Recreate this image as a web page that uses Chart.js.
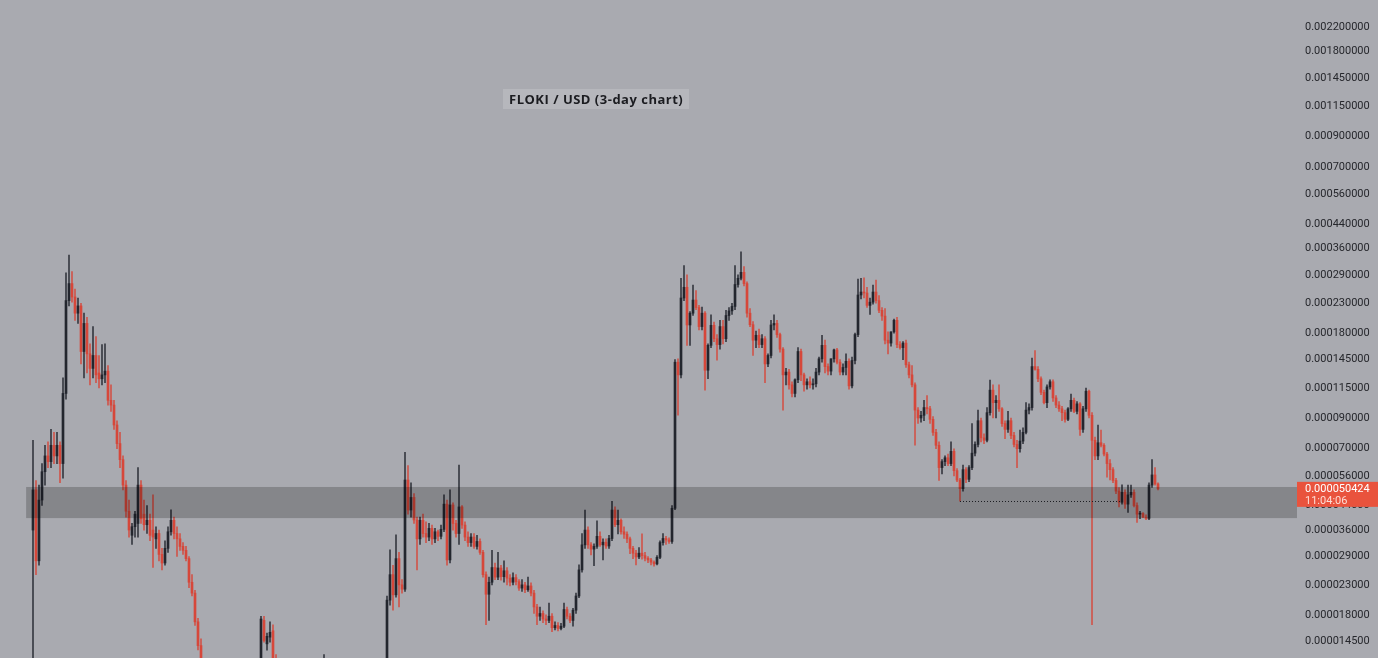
<!DOCTYPE html>
<html><head><meta charset="utf-8">
<script src="https://cdn.jsdelivr.net/npm/chart.js@4.4.1/dist/chart.umd.min.js"></script>
<style>
html,body{margin:0;padding:0;background:#a9aab0;overflow:hidden;}
#wrap{position:relative;width:1378px;height:658px;background:#a9aab0;}
#title{position:absolute;left:503px;top:89px;padding:2px 6px;line-height:16px;background:rgba(255,255,255,0.16);font-family:"Open Sans",Arial,sans-serif;font-weight:700;font-size:13px;letter-spacing:0.5px;color:#1b1c20;white-space:nowrap;}
</style></head>
<body><div id="wrap"><canvas id="c" width="1378" height="658"></canvas><div id="title">FLOKI / USD (3-day chart)</div></div>
<script>
// Prices in millionths of a USD (1 = 0.000001 USD), one 3-day candle per entry
const UNIT = 1e-6;
const opens = [
36,50,28,46,58,66,63,72,66,72,
62,110,235,270,242,212,225,155,195,152,
135,150,130,124,128,132,104,100,85,73,
64,52,42,34.5,37,38,52,41,37.6,39,
36,33.5,35,29.5,27.5,31,35.5,39,35,33.5,
31.5,30.5,28.5,23.5,21.5,17,14,12.2,10,9,
8.2,7,6.2,7.1,7.8,7.5,8.1,9.2,8.7,9.0,
9.8,9.5,9.9,10.8,11.0,11.4,11.9,17.2,14.2,15,
15.8,12.5,11.2,10.5,9.9,10.1,9.8,9.3,9.6,10.0,
9.7,9.4,9.8,10.3,10.6,10.9,11.3,11.6,12.0,11.3,
10.9,10.2,9.3,8.6,7.8,8.0,7.8,7.3,7.6,8.1,
7.9,8.2,8.8,9.2,9.7,10.2,10.9,11.6,12.1,20.3,
25,21.2,28.5,23,22.2,54.2,42.4,47,39.1,33.5,
39,35,34,36.5,33.5,35.5,34.2,36.2,44.5,28.2,
44.2,38,35,43.5,37.5,34,32.5,34,31.5,32.8,
30,25,21.3,23.5,26.5,24.5,26.4,24.6,25.8,24.3,
23.5,24.4,23.6,22.4,23,22.1,22.8,21.5,19.2,17.8,
18.2,17.4,17.2,17.8,16.2,16.5,16.1,16.4,18.8,17.8,
17.2,18.7,21,26,31.9,36,31.9,30.8,31.5,34.2,
31.9,32.6,31.6,33.6,42.4,37.6,39,35.5,34.8,33.5,
31,29.8,28.9,29.8,29.2,28.6,28.2,27.7,27.3,28.8,
32.5,33.6,33.2,32.8,43,142,128,240,262,192.5,
212,236,222,190,212,133,163,192,172,164,
190,172,208,216,224,268,282,296,270,212,
193,170,177,164,172,140,150,192.5,195,178,
158,128,131,118,110,123,155,128,118,121,
118,119,131,146,163,137,132,146,157,142,
131,136,143,117,144,178,246,252,250,226,
232,252,235,217,207,170,166,182,200,164,
160,166,139,128,118,96,90,92,98,97,
89,80,72,60,63,65,62,68.5,58.5,54.2,
50.5,59,54.5,60,67.5,72.5,88,76.5,75,94,
113,102,104,97,86,82,88,78,72.5,70,
74.5,80,96,98,137,134,124,111,102,116,
121,106,100,97,94,89,97,104,95,101,
82,97,112,92,75,66,73.5,72,67,62,
59,54,49.5,45.2,49,44.5,48,49,44,41,
41.2,40,39.6,52,56.5,52.5];
const highs = [
75,54,52,62,72,74,82,80,80,74,
125,295,341,298,258,240,230,212,205,165,
190,175,150,164,165,138,118,104,88,80,
66,54,46,38,42,60,54,46,44,41,
48,37,36,31,33,37,42.5,40,37,35,
32.5,31.5,29,25,22,17.5,14.8,12.5,10.5,9.8,
8.8,7.8,7.4,8.2,8.6,8.4,9.6,9.9,9.4,10.3,
10.6,10.2,11.2,11.9,12.0,12.2,17.8,17.8,15.5,17,
16.6,13,11.6,11.0,10.4,10.8,10.3,9.8,10.4,10.6,
10.1,10.0,10.5,11.0,11.4,11.8,12.1,13.0,12.6,11.9,
11.4,10.7,9.8,9.0,8.4,8.6,8.2,7.9,8.3,8.6,
8.4,9.0,9.5,10.0,10.5,11.2,12.0,12.4,21,30.6,
27,34.6,30,24,68,61,53,48.5,40,40,
41,38.5,38,37.5,36.5,36,37.5,48,46,50,
45,39,61.3,44,38.5,35.5,35,35,34.5,33.5,
30.5,25.6,24.5,30.5,27.5,30,27,28,26.5,25,
25.4,25,24,24,23.5,24.5,23.4,22,19.6,19.2,
18.6,18,19.8,18.2,17,16.9,16.8,19.8,19.2,18.2,
19,21.5,27.1,35,42.4,37,32.5,32.2,38.8,35.5,
33.5,33.5,34.5,45.5,43.5,42.4,39.5,37,35.5,34,
31.5,30.5,31.2,34.9,30,29,28.6,28,29.2,33,
35,34.2,33.8,44,145,146,282,313,290,215,
267,255,226,223,215,165,209,197,178,200,
200,217,222,230,313,290,350,310,274,220,
198,183,186,178,175,152,200,209,200,180,
160,135,134,121,124,160,158,130,124,126,
124,135,148,177,170,140,146,158,159,145,
140,152,146,148,180,280,282,283,262,240,
267,278,245,222,220,182,182,202,205,168,
168,170,142,138,120,98,95,104,108,99,
91,82,74,64,66,67,74,70,59.5,55,
61.3,60,61,86,74,96,90,79,98,122.7,
118,108,118,98,88,95,90,80,75,81.5,
83,102,101,147,156,137,126,113,118,123,
123,108,103,99,96,98,109.5,106,103,102,
99,115,113,94,77,85,81.5,73,68,64,
60,55,51,52.1,50,52,52,50,45,42,
41.5,40.8,53,64,60,53];
const lows = [
8,25,27,44,52,60,60,62,62,53,
55,105,225,232,200,195,140,125,130,118,
125,120,115,118,120,100,95,82,70,60,
50,40,34,32,34,34,38,36,35,33,
26.5,31,28,26,27,30,34.5,33.5,29,30.5,
29.5,28,22.5,21,16.5,13.5,11.8,9.5,8.5,7.8,
6.5,5.6,5.9,6.8,7.2,7.1,7.9,8.4,8.1,8.8,
9.2,9.0,9.6,10.3,10.5,10.8,11.6,14.4,13.5,14.4,
12.2,10.8,10.2,9.6,9.3,9.7,9.0,8.8,9.4,9.5,
9.2,9.1,9.6,10.0,10.2,10.5,10.8,11.2,11.0,10.6,
9.8,9.0,8.2,7.4,7.2,7.6,7.0,6.9,7.4,7.7,
7.5,8.0,8.5,8.9,9.4,9.9,10.5,11.2,11.8,19.5,
18.7,20.8,19.2,21.5,21.8,41,40,38,26,32,
34,32.5,33,32,32.5,33,33.5,35.5,27,27.5,
36,34,32,36.5,33,31.5,31.5,31,30.8,29.5,
24.5,16.6,17.2,23,24,24,23.9,23.5,23,22.8,
23,23,22,21.8,21.6,21.8,21,18.2,16.6,17.2,
16.9,16.6,16.9,15.7,15.9,15.8,15.9,16.2,17.4,16.9,
16.4,18.2,20.7,25.5,31,31,29.4,26.9,31,31.5,
28.2,31,31,33,37,34.9,34.8,33.6,32.5,29.7,
28.5,27.1,28.5,28.4,28,27.6,27.1,26.8,27.1,28.5,
31.8,32,32.3,32.3,42.5,92,125,235,163,163,
208,218,185,185,113,124,160,168,144.5,158,
165,168,200,210,218,262,278,265,205,190,
150,160,160,160,120,137,147,185,174,154,
96,118,114,107,107,120,122,112,114,115,
114,116,128,142,130,128,128,142,140,128,
128,128,114,115,140,175,238,240,222,210,
228,230,213,200,165,152,162,180,160,158,
145,136,125,116,72,86,87,88,93,86,
78,70,54,57,61,61,61,56,53.5,45.6,
49.5,53,53.5,59,66,71,74,73,74,92,
90,90,95,84,76,80,76,71,60,68,
73,79,93,96,133,121,109,101,98,114,
103,98,95,88,87,88,95,94,93,78,
80,95,90,16.6,64,64,71,66,55.5,54.2,
53,48.5,43.5,44.5,43,41.6,47,43.5,38.3,39.5,
39.8,39.2,39.2,51,52,50];
const closes = [
50,28,46,58,66,63,72,66,72,62,
110,235,270,242,212,225,155,195,152,135,
150,128,124,128,132,104,100,85,73,64,
52,42,36,37,41,52,39.5,37.6,39,34.5,
34,35,29.5,27.5,31,35.5,39,35,33.5,31.5,
30.5,28.5,23.5,21.5,17,14,12.2,10,9,8.2,
7,6.2,7.1,7.8,7.5,8.1,9.2,8.7,9.0,9.8,
9.5,9.9,10.8,11.0,11.4,11.9,17.4,14.6,15.1,15.6,
12.5,11.2,10.5,9.9,10.1,9.8,9.3,9.6,10.0,9.7,
9.4,9.8,10.3,10.6,10.9,11.3,11.6,12.0,11.3,10.9,
10.2,9.3,8.6,7.8,8.0,7.8,7.3,7.6,8.1,7.9,
8.2,8.8,9.2,9.7,10.2,10.9,11.6,12.1,20.3,25,
21.2,28.5,23,22.2,54.2,42.4,47,39.1,33.5,39,
35,34,36.5,33.5,35.5,34.2,36.2,44.5,28.2,44.2,
38,35,43.5,37.5,34,32.5,34,31.5,32.8,30,
25,21.3,23.5,26.5,24.5,26.4,24.6,25.8,24.3,23.5,
24.4,23.6,22.4,23,22.1,22.8,21.5,19.2,17.8,18.2,
17.4,17.2,17.8,16.2,16.5,16.1,16.4,18.8,17.8,17.2,
18.7,21,26,31.9,36,31.9,30.8,31.5,34.2,31.9,
32.6,31.6,33.6,42.4,37.6,39,35.5,34.8,33.5,31,
29.8,28.9,29.8,29.2,28.6,28.2,27.7,27.3,28.8,32.5,
33.6,33.2,32.8,43,142,128,240,262,192.5,212,
236,222,190,212,133,163,192,172,164,190,
172,208,216,224,268,282,296,270,212,193,
170,177,164,172,140,150,192.5,195,178,158,
128,131,118,110,123,155,128,118,121,118,
119,131,146,163,137,132,146,157,142,131,
136,143,117,144,178,246,252,250,226,232,
252,235,217,207,170,166,182,200,164,160,
166,139,128,118,96,90,92,98,97,89,
80,72,60,63,65,62,68.5,58.5,54.2,50.5,
59,54.5,60,67.5,72.5,88,76.5,75,94,113,
102,104,97,86,82,88,78,72.5,70,74.5,
80,96,98,137,134,124,111,102,116,121,
106,100,97,94,89,97,104,95,101,82,
97,112,92,75,66,73.5,72,67,62,59,
54,49.5,45.2,49,44.5,48,49,44,41,41.2,
40,39.6,52,56.5,52.5,50.424];

// Right-axis price labels (USD)
const yTicks = [0.0028,0.0022,0.0018,0.00145,0.00115,0.0009,0.0007,0.00056,0.00044,0.00036,0.00029,0.00023,0.00018,0.000145,0.000115,0.00009,0.00007,0.000056,0.000044,0.000036,0.000029,0.000023,0.000018,0.0000145];
// Support zone (millionths of USD) and dotted support line (candle indices)
const zoneLow = 39.7, zoneHigh = 51.2, zoneStartIndex = -2.3;
const dottedFrom = 309, dottedTo = 363;
const clockText = '11:04:06';

const UP = '#23262e', DOWN = '#d6473a';
const UPW = 'rgba(35,38,46,0.85)', DOWNW = 'rgba(214,71,58,0.85)';
const idx = opens.map((_, i) => i);
const bodyData = idx.map(i => ({x: i, y: [Math.min(opens[i], closes[i]) * UNIT, Math.max(opens[i], closes[i]) * UNIT]}));
const wickData = idx.map(i => ({x: i, y: [lows[i] * UNIT, highs[i] * UNIT]}));
const bodyColors = idx.map(i => closes[i] >= opens[i] ? UP : DOWN);
const wickColors = idx.map(i => closes[i] >= opens[i] ? UPW : DOWNW);
const lastClose = closes[closes.length - 1];

const overlay = {
  id: 'overlay',
  afterDatasetsDraw(chart) {
    const {ctx, chartArea: a, scales: {x, y}} = chart;
    ctx.save();
    const x0 = x.getPixelForValue(zoneStartIndex);
    const yT = y.getPixelForValue(zoneHigh * UNIT), yB = y.getPixelForValue(zoneLow * UNIT);
    ctx.fillStyle = 'rgba(0,0,0,0.21)';
    ctx.fillRect(x0, yT, a.right - x0, yB - yT);
    const yl = Math.round(y.getPixelForValue(lows[dottedFrom] * UNIT)) + 0.5;
    ctx.strokeStyle = '#1c1d22';
    ctx.lineWidth = 1;
    ctx.setLineDash([1, 2]);
    ctx.beginPath();
    ctx.moveTo(x.getPixelForValue(dottedFrom), yl);
    ctx.lineTo(x.getPixelForValue(dottedTo), yl);
    ctx.stroke();
    ctx.restore();
  },
  afterDraw(chart) {
    const {ctx, chartArea: a, scales: {y}} = chart;
    const py = y.getPixelForValue(lastClose * UNIT);
    ctx.save();
    ctx.fillStyle = '#e9533d';
    ctx.fillRect(a.right, py - 7, chart.width - a.right, 25);
    ctx.font = '11px Roboto';
    ctx.textBaseline = 'middle';
    ctx.textAlign = 'left';
    ctx.fillStyle = '#ffffff';
    ctx.fillText((lastClose * UNIT).toFixed(9), a.right + 8, py);
    ctx.fillStyle = 'rgba(255,228,220,0.95)';
    ctx.fillText(clockText, a.right + 8, py + 12);
    ctx.restore();
  }
};

new Chart(document.getElementById('c'), {
  type: 'bar',
  data: {
    datasets: [
      {data: bodyData, backgroundColor: bodyColors, barThickness: 2, grouped: false, minBarLength: 1, order: 0},
      {data: wickData, backgroundColor: wickColors, barThickness: 1, grouped: false, order: 1}
    ]
  },
  options: {
    responsive: false,
    animation: false,
    devicePixelRatio: 1,
    layout: {padding: 0},
    plugins: {legend: {display: false}, tooltip: {enabled: false}},
    scales: {
      x: {type: 'linear', display: false, offset: false, min: -11, max: 421.33},
      y: {
        type: 'logarithmic', position: 'right', bounds: 'data',
        min: 0.00001265, max: 0.002743,
        grid: {display: false, drawTicks: false},
        border: {display: false},
        afterFit(s) { s.width = 81; s.paddingTop = 0; s.paddingBottom = 0; },
        afterBuildTicks(s) { s.ticks = yTicks.map(v => ({value: v})); },
        ticks: {autoSkip: false, padding: 8, color: '#26272c', font: {family: 'Roboto', size: 11},
          callback: (v) => Number(v).toFixed(9)}
      }
    }
  },
  plugins: [overlay]
});
</script>
</body></html>
